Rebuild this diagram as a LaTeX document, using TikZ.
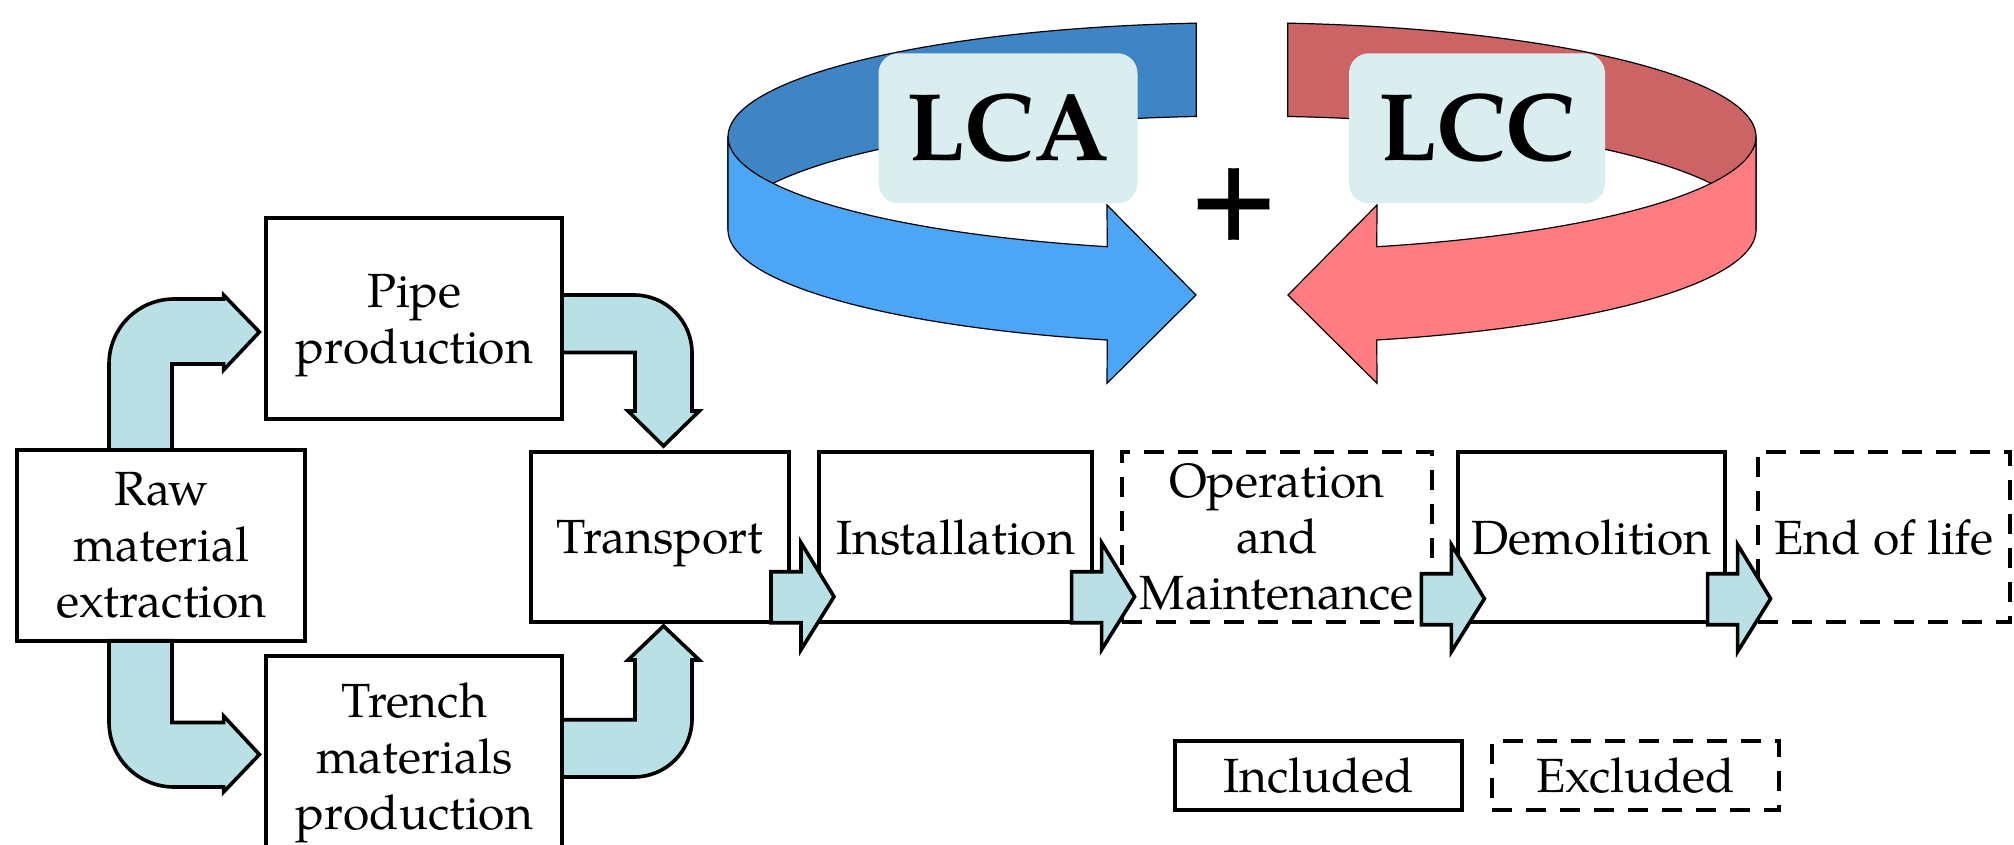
\documentclass[tikz,border=0pt]{standalone}
\usepackage{fontspec}
\setmainfont{TeX Gyre Pagella}
\usetikzlibrary{calc}
\definecolor{arrowfill}{RGB}{185,224,228}
\definecolor{lcbox}{RGB}{218,238,240}
\definecolor{blueback}{RGB}{63,132,196}
\definecolor{bluefront}{RGB}{76,166,245}
\definecolor{redback}{RGB}{204,100,102}
\definecolor{redfront}{RGB}{255,125,128}
\begin{document}
\begin{tikzpicture}[x=0.5pt,y=-0.5pt,
  box/.style={draw, line width=2pt, align=center, inner sep=0pt, text depth=0pt,
    font=\fontsize{24}{28}\selectfont},
  exbox/.style={box, dash pattern=on 10pt off 7pt},
  blk/.style={draw, line width=1.8pt, fill=arrowfill},
  ribbon/.style={draw, line width=0.6pt},
  lcb/.style={fill=lcbox, rounded corners=10pt, inner sep=0pt,
    font=\fontsize{48}{48}\selectfont\bfseries},
  smallarr/.pic={\draw[blk] (-63,-25) -- (-33,-25) -- (-33,-54) -- (0,0) -- (-33,53) -- (-33,26) -- (-63,26) -- cycle;}
]
\useasboundingbox (0,0) rectangle (2014,845);
\clip (0,0) rectangle (2014,845);

% ---- LCA / LCC ribbons
\draw[ribbon, fill=blueback] plot[domain=180:95.1,samples=60] ({1242+514*cos(\x)},{136.7-114*sin(\x)})
  -- plot[domain=95.1:180,samples=60] ({1242+514*cos(\x)},{230-114*sin(\x)}) -- cycle;
\draw[ribbon, fill=redback] plot[domain=0:84.9,samples=60] ({1242+514*cos(\x)},{136.7-114*sin(\x)})
  -- plot[domain=84.9:0,samples=60] ({1242+514*cos(\x)},{230-114*sin(\x)}) -- cycle;
\draw[ribbon, fill=bluefront] plot[domain=180:105.2,samples=60] ({1242+514*cos(\x)},{136.7+114*sin(\x)})
  -- (1107,205) -- (1196,295) -- (1107,383.3)
  -- plot[domain=105.2:180,samples=60] ({1242+514*cos(\x)},{230+114*sin(\x)}) -- cycle;
\draw[ribbon, fill=redfront] plot[domain=0:74.8,samples=60] ({1242+514*cos(\x)},{136.7+114*sin(\x)})
  -- (1377,205) -- (1288,295) -- (1377,383.3)
  -- plot[domain=74.8:0,samples=60] ({1242+514*cos(\x)},{230+114*sin(\x)}) -- cycle;

\node[lcb, minimum width=129.5pt, minimum height=75pt] (lca) at (1008,128.3) {LCA};
\node[lcb, minimum width=128pt, minimum height=75pt] (lcc) at (1477,128.3) {LCC};
\node[font=\fontsize{60}{60}\selectfont\bfseries, inner sep=0pt] (plus) at (1234.5,205) {+};

% ---- L-shaped block arrows
\draw[blk] (109,450) -- (109,364) arc[start angle=180, end angle=270, radius=65]
  -- (223.6,299) -- (223.6,295) -- (259.4,332) -- (223.6,370) -- (223.6,364)
  -- (172,364) -- (172,450) -- cycle;
\draw[blk] (562,295) -- (634,295) arc[start angle=270, end angle=360, radius=58]
  -- (692,411) -- (699.3,411) -- (663.5,446) -- (628,411) -- (635,411)
  -- (635,352.5) -- (562,352.5) -- cycle;
\draw[blk] (109,640.6) -- (109,722) arc[start angle=180, end angle=90, radius=65]
  -- (223.6,787) -- (223.6,792) -- (259.4,754.5) -- (223.6,716) -- (223.6,722.5)
  -- (172,722.5) -- (172,640.6) -- cycle;
\draw[blk] (562,777) -- (634,777) arc[start angle=90, end angle=0, radius=58]
  -- (692,660) -- (699.3,660) -- (663.5,626) -- (628,660) -- (635,660)
  -- (635,719.7) -- (562,719.7) -- cycle;

% ---- boxes
\node[box, minimum width=144pt, minimum height=95.3pt] (raw) at (161.4,545.3) {Raw\\material\\extraction};
\node[box, minimum width=148pt, minimum height=100.5pt] (pipe) at (414.4,318.9) {Pipe\\production};
\node[box, minimum width=148pt, minimum height=100.5pt] (trench) at (414.4,756.2) {Trench\\materials\\production};
\node[box, minimum width=129pt, minimum height=85pt] (transport) at (660.1,536.7) {Transport};
\node[box, minimum width=136.5pt, minimum height=85pt] (inst) at (955.5,536.7) {Installation};
\node[exbox, minimum width=155.2pt, minimum height=85pt] (oper) at (1276.8,536.7) {Operation\\and\\Maintenance};
\node[box, minimum width=133.3pt, minimum height=85pt] (demo) at (1591.7,536.7) {Demolition};
\node[exbox, minimum width=126.2pt, minimum height=85pt] (endl) at (1883.8,536.7) {End of life};

% ---- small arrows between stages
\pic at ($(inst.west)+(17,60)$) {smallarr};
\pic at ($(oper.west)+(15,60)$) {smallarr};
\pic at ($(demo.west)+(28,62)$) {smallarr};
\pic at ($(endl.west)+(15,62)$) {smallarr};

% ---- legend
\node[box, minimum width=143.5pt, minimum height=34.6pt] (incl) at (1318.5,775.4) {Included};
\node[exbox, minimum width=143.5pt, minimum height=34.6pt] (excl) at (1635.5,775.4) {Excluded};
\end{tikzpicture}
\end{document}
